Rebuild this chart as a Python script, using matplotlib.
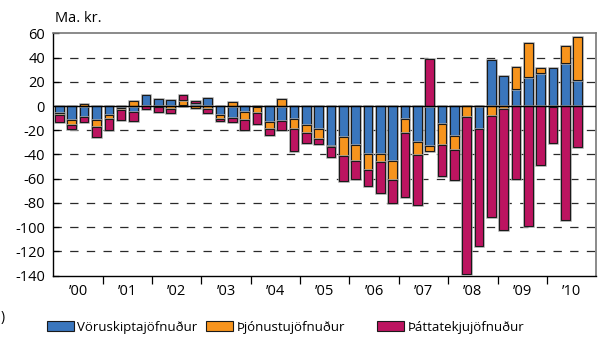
import numpy as np
import matplotlib
matplotlib.use("Agg")
import matplotlib.pyplot as plt
import matplotlib.patheffects as pe
from matplotlib.patches import Patch

plt.rcParams['font.family'] = ['Open Sans', 'DejaVu Sans']
plt.rcParams['axes.unicode_minus'] = False
plt.rcParams['lines.scale_dashes'] = False

# quarterly, 2000Q1 - 2010Q3
years = ["\u201900", "\u201901", "\u201902", "\u201903", "\u201904", "\u201905",
         "\u201906", "\u201907", "\u201908", "\u201909", "\u201910"]
series_names = ["Vöruskiptajöfnuður", "Þjónustujöfnuður", "Þáttatekjujöfnuður"]

voruskipti = [-5.5, -11.8, -9.0, -11.2, -7.1, -1.6, -5.0, 8.8, 6.0, 5.2, 0.6,
              2.5, 6.6, -7.1, -10.1, -5.2, -0.5, -13.4, -12.0, -10.4, -15.3,
              -19.3, -33.0, -25.4, -32.3, -39.4, -40.0, -45.5, -10.5, -29.8,
              -33.1, -14.6, -24.8, -0.3, -18.8, 38.0, 24.8, 14.3, 23.7, 27.6,
              31.2, 35.6, 21.8]
thjonusta = [-2.2, -3.8, 1.5, -5.8, -3.8, -2.0, 4.5, -0.3, -1.0, -2.2, 4.3,
             -1.9, -2.7, -3.3, 3.3, -6.0, -5.5, -5.5, 5.5, -8.5, -7.1,
             -7.7, -1.2, -16.0, -12.7, -13.5, -6.0, -15.5, -12.1, -11.0,
             -3.9, -17.4, -11.6, -9.1, 0.0, -8.3, -2.2, 17.9, 28.2, 3.8,
             -0.8, 14.1, 35.3]
thattatekjur = [-5.2, -3.3, -3.9, -8.2, -9.0, -7.9, -7.0, -2.0, -4.0, -3.6, 4.4,
                1.6, -2.7, -1.9, -2.7, -8.2, -8.8, -4.9, -7.4, -18.6, -8.5,
                -4.0, -8.0, -20.4, -15.2, -12.7, -25.7, -19.0, -52.4, -40.9,
                39.2, -25.4, -24.3, -129.5, -97.1, -83.6, -100.4, -59.9, -99.3,
                -48.8, -30.0, -94.3, -33.4]

colors = ["#3a76bd", "#f7941d", "#bc1460"]

fig = plt.figure(figsize=(5.98, 3.38), dpi=100)
ax = fig.add_axes([0.0891, 0.1843, 0.9081, 0.7172])

x = np.arange(len(voruskipti))
pos_bottom = np.zeros(len(x))
neg_bottom = np.zeros(len(x))
halo = [pe.Stroke(linewidth=1.8, foreground="#a8a8a8"), pe.Normal()]
for vals, col in zip([voruskipti, thjonusta, thattatekjur], colors):
    v = np.array(vals)
    bottom = np.where(v >= 0, pos_bottom, neg_bottom)
    bars = ax.bar(x, v, 0.7, bottom=bottom, color=col, edgecolor="#1a1a1a",
                  linewidth=0.8, zorder=3)
    for b in bars:
        b.set_path_effects(halo)
    pos_bottom += np.where(v >= 0, v, 0)
    neg_bottom += np.where(v < 0, v, 0)

ax.axhline(0, color="black", linewidth=1.0, zorder=4)

ax.set_xlim(-0.5, len(years) * 4 - 0.5)
ax.set_ylim(-140, 60)
ax.set_yticks(np.arange(-140, 61, 20))
for yv in range(-120, 60, 20):
    if yv != 0:
        ax.axhline(yv, color="#2a2a2a", linewidth=0.9, linestyle=(0, (6, 6)), zorder=1)

ax.set_xticks(np.arange(1.5, len(years) * 4, 4))
ax.set_xticklabels(years)
ax.set_xticks(np.arange(3.5, len(years) * 4 - 1, 4), minor=True)
ax.tick_params(axis="x", which="major", length=0, labelsize=10.5, pad=6)
ax.tick_params(axis="x", which="minor", length=6, width=0.9, direction="out", color="black")
ax.tick_params(axis="y", direction="in", length=4, width=0.9, labelsize=10.5, pad=6)

for s in ["top", "right"]:
    ax.spines[s].set_color("#777777")
    ax.spines[s].set_linewidth(1.2)
for s in ["left", "bottom"]:
    ax.spines[s].set_color("black")
    ax.spines[s].set_linewidth(1.0)

fig.text(55 / 598, 1 - 19 / 338, "Ma. kr.", fontsize=10.5, va="center", ha="left")
fig.text(1 / 598, 1 - 318 / 338, ")", fontsize=10, va="center", ha="left")

# legend entries placed individually, spacing in the reference is uneven
legend_x = [47, 206, 377]
for name, col, lx in zip(series_names, colors, legend_x):
    h = Patch(facecolor=col, edgecolor="#1a1a1a", linewidth=0.8)
    fig.legend([h], [name], loc="center left", bbox_to_anchor=(lx / 598, 1 - 327 / 338),
               frameon=False, fontsize=9.5, handlelength=2.05, handleheight=0.8,
               handletextpad=0.25, borderpad=0, borderaxespad=0)

fig.savefig("out.png", dpi=100)
